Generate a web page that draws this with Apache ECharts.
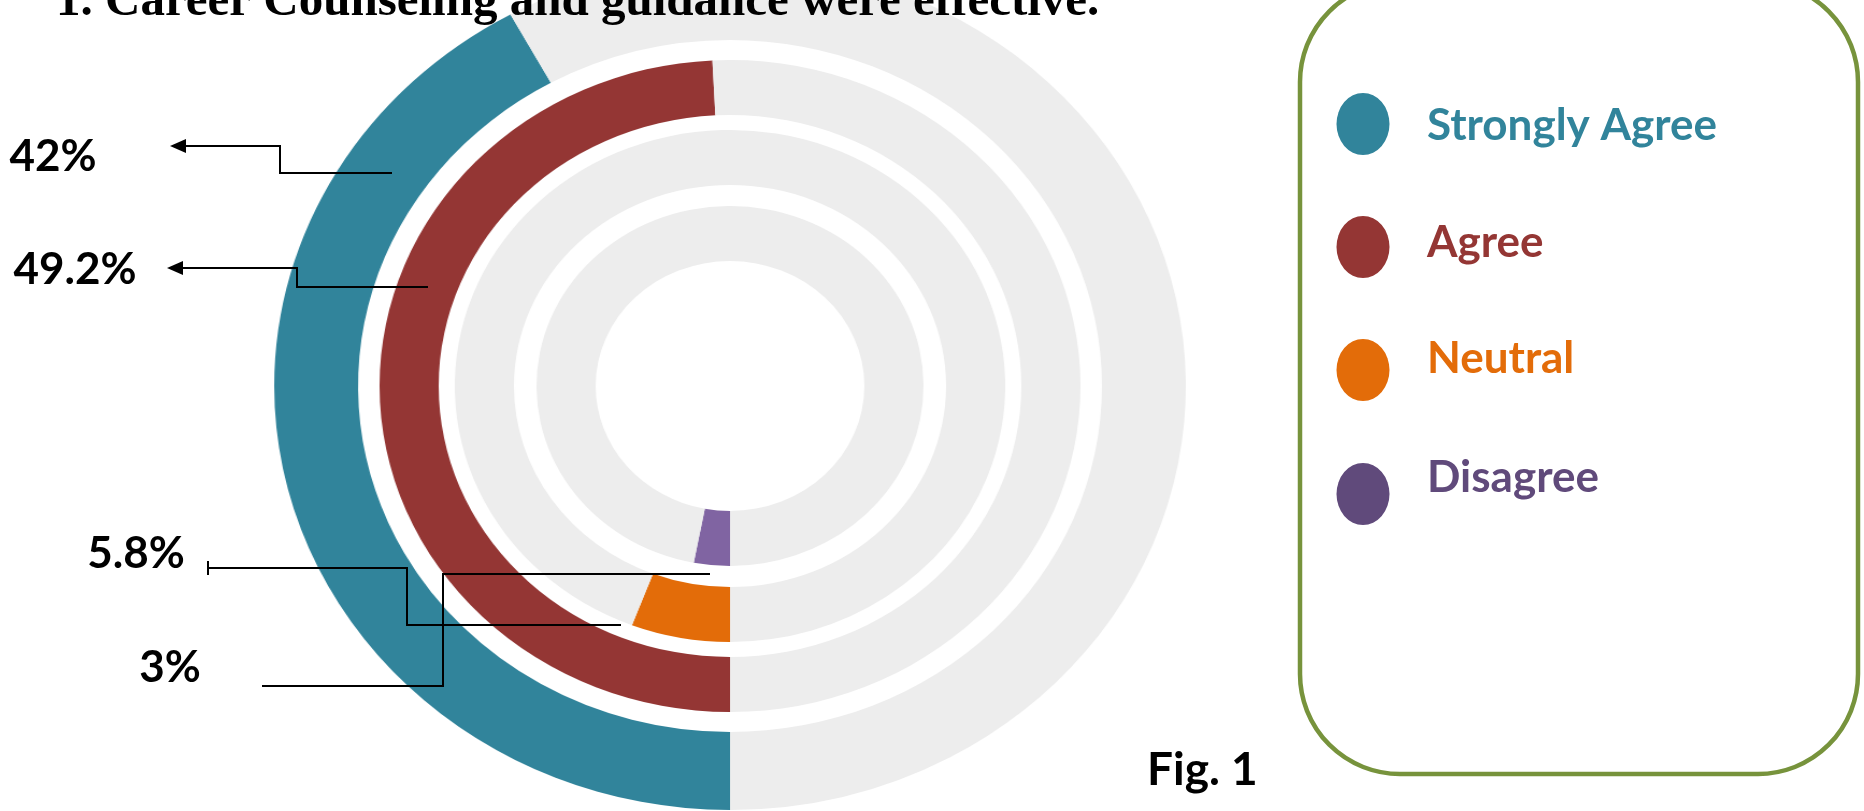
<!DOCTYPE html>
<html>
<head>
<meta charset="utf-8">
<script src="https://cdn.jsdelivr.net/npm/echarts@6/dist/echarts.min.js"></script>
<style>
html,body{margin:0;padding:0;background:#fff;overflow:hidden;}
#wrap{position:relative;width:1864px;height:811px;}
#rings{position:absolute;left:0;top:0;width:1864px;height:811px;
  transform:scaleX(1.075);transform-origin:730px 386px;}
#overlay{position:absolute;left:0;top:0;width:1864px;height:811px;}
</style>
</head>
<body>
<div id="wrap">
  <div id="rings"></div>
  <div id="overlay"></div>
</div>
<script>
const titleText = '1. Career Counseling and guidance were effective.';
const figText = 'Fig. 1';
const categories = ['Strongly Agree', 'Agree', 'Neutral', 'Disagree'];
const percentages = [42, 49.2, 5.8, 3];
const valueLabels = ['42%', '49.2%', '5.8%', '3%'];
const sliceColors = ['#31849B', '#943634', '#E36C09', '#8064A2'];
const legendColors = ['#31849B', '#943634', '#E36C09', '#604A7B'];
const restColor = '#EDEDED';

// ring geometry (layout)
const ringRadii = [[346, 424], [271, 326], [201, 256], [125, 180]];
const center = [730, 386];

const series = categories.map((name, i) => ({
  type: 'pie',
  name: name,
  silent: true,
  animation: false,
  center: center,
  radius: ringRadii[i],
  startAngle: 270,
  clockwise: true,
  label: { show: false },
  labelLine: { show: false },
  emphasis: { disabled: true },
  itemStyle: { borderWidth: 0 },
  data: [
    { name: name, value: percentages[i], itemStyle: { color: sliceColors[i] } },
    { name: 'rest ' + name, value: 100 - percentages[i], itemStyle: { color: restColor } }
  ]
}));

const ringChart = echarts.init(document.getElementById('rings'), null, { renderer: 'canvas' });
ringChart.setOption({ animation: false, backgroundColor: '#fff', series: series });

// annotation layout
const labelPos = [[53, 157], [75, 270], [136, 554], [170, 668]];
const leaders = [
  [[184, 146], [280, 146], [280, 173], [392, 173]],
  [[181, 268], [297, 268], [297, 287], [428, 287]],
  [[208, 568], [407, 568], [407, 625], [621, 625]],
  [[262, 686], [443, 686], [443, 574], [710, 574]]
];
const arrowTips = [[170, 146], [167, 268]];
const legendIconY = [124, 247, 370, 494];
const legendTextY = [126, 243, 359, 478];

const graphics = [];
graphics.push({
  type: 'rect', z: 1,
  shape: { x: 1300, y: -18, width: 558, height: 792, r: 100 },
  style: { fill: 'none', stroke: '#77933C', lineWidth: 4.5 }
});
leaders.forEach(pts => graphics.push({
  type: 'polyline', z: 10,
  shape: { points: pts },
  style: { stroke: '#000', lineWidth: 2, fill: null }
}));
arrowTips.forEach(t => graphics.push({
  type: 'polygon', z: 10,
  shape: { points: [[t[0], t[1]], [t[0] + 16, t[1] - 7], [t[0] + 16, t[1] + 7]] },
  style: { fill: '#000' }
}));
graphics.push({
  type: 'line', z: 10,
  shape: { x1: 208, y1: 561, x2: 208, y2: 575 },
  style: { stroke: '#000', lineWidth: 2 }
});
valueLabels.forEach((t, i) => graphics.push({
  type: 'text', z: 10,
  x: labelPos[i][0], y: labelPos[i][1],
  style: {
    text: t, fill: '#000', font: 'bold 44px Lato',
    textAlign: 'center', textVerticalAlign: 'middle'
  }
}));
graphics.push({
  type: 'text', z: 10, x: 56, y: 27,
  style: {
    text: titleText, fill: '#000', font: 'bold 49px "Liberation Serif"',
    textAlign: 'left', textVerticalAlign: 'bottom'
  }
});
graphics.push({
  type: 'text', z: 10, x: 1147, y: 770,
  style: {
    text: figText, fill: '#000', font: 'bold 46px Lato',
    textAlign: 'left', textVerticalAlign: 'middle'
  }
});
categories.forEach((c, i) => {
  graphics.push({
    type: 'circle', z: 10,
    x: 1363, y: legendIconY[i], scaleY: 31 / 26.5,
    shape: { cx: 0, cy: 0, r: 26.5 },
    style: { fill: legendColors[i] }
  });
  graphics.push({
    type: 'text', z: 10,
    x: 1427, y: legendTextY[i],
    style: {
      text: c, fill: legendColors[i], font: 'bold 44px Lato',
      textAlign: 'left', textVerticalAlign: 'middle'
    }
  });
});

const overlay = echarts.init(document.getElementById('overlay'), null, { renderer: 'canvas' });
overlay.setOption({ animation: false, graphic: graphics });
</script>
</body>
</html>
